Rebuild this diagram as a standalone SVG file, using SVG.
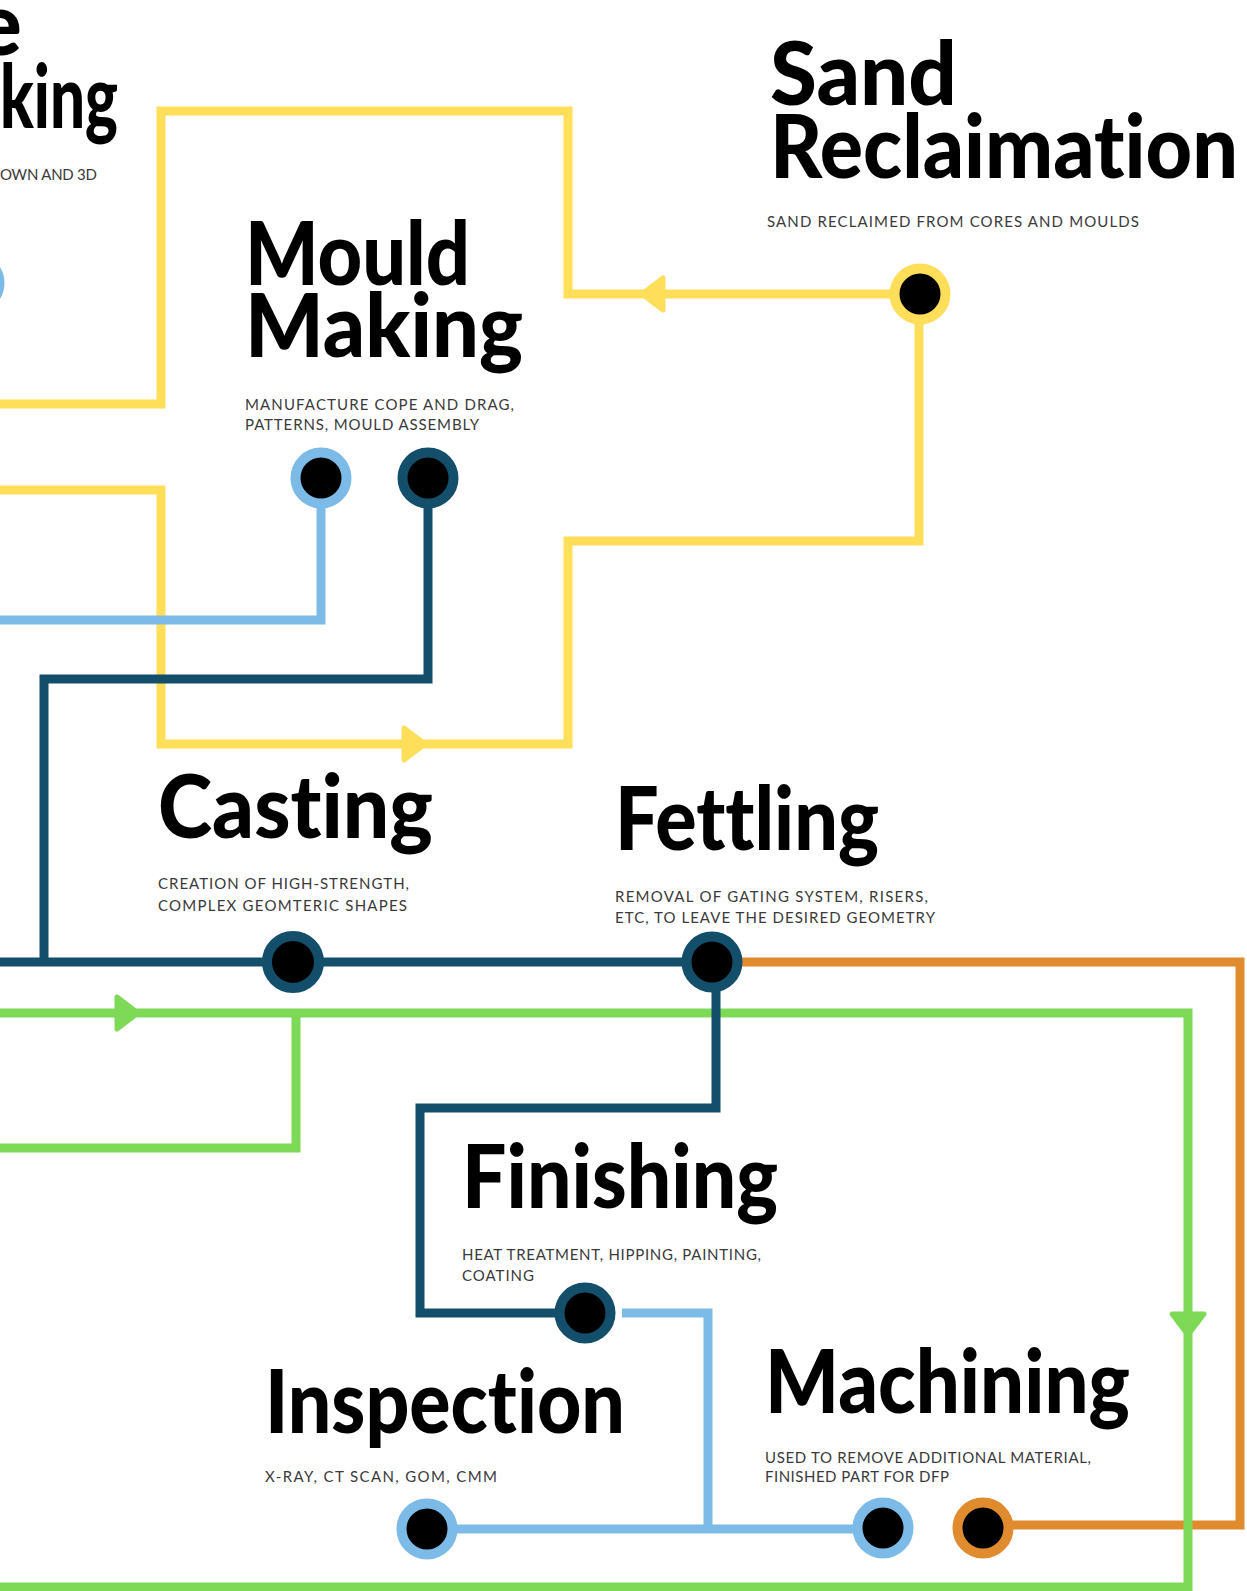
<svg xmlns="http://www.w3.org/2000/svg" xmlns:xlink="http://www.w3.org/1999/xlink" width="1247" height="1591" viewBox="0 0 1247 1591">
<style>
.ln{fill:none;stroke-width:9;stroke-linejoin:miter;stroke-linecap:butt}
.y{stroke:#FFDE59}.g{stroke:#7ED957}.o{stroke:#E18B2F}.d{stroke:#134E6A}.b{stroke:#7CBBE8}
.ay{fill:#FFDE59;stroke:#FFDE59}.ag{fill:#7ED957;stroke:#7ED957}
.arr{stroke-width:5;stroke-linejoin:round}
.st{fill:#000;stroke-width:10}
.t{font-family:Lato,"Liberation Sans",sans-serif;font-weight:900;font-size:87px;fill:#000;font-variant-ligatures:none;font-feature-settings:"liga" 0,"clig" 0,"dlig" 0}
.s{font-family:Lato,"Liberation Sans",sans-serif;font-weight:400;font-size:15px;fill:#3a3a3a;letter-spacing:1px;font-variant-ligatures:none}
</style>
<defs>
<path id="tri" d="M0,-16 L21,0 L0,16 Z"/>
</defs>
<rect width="1247" height="1591" fill="#fff"/>
<g id="connectors">
<path class="ln y" d="M0,404 H161 V111 H568 V294 H919"/>
<path class="ln y" d="M0,490 H161 V744 H568 V541 H919 V294"/>
<use xlink:href="#tri" class="ay arr" transform="translate(663,294) rotate(180)"/>
<use xlink:href="#tri" class="ay arr" transform="translate(404,744)"/>
<path class="ln o" d="M712,962 H1240 V1525 H983"/>
<path class="ln g" d="M0,1013 H1188 V1591"/>
<path class="ln g" d="M296,1013 V1148 H0"/>
<path class="ln g" d="M0,1587 H1188"/>
<use xlink:href="#tri" class="ag arr" transform="translate(117,1013)"/>
<use xlink:href="#tri" class="ag arr" transform="translate(1188,1314) rotate(90)"/>
<path class="ln d" d="M0,962 H712"/>
<path class="ln d" d="M428,478 V679 H44 V962"/>
<path class="ln d" d="M716,962 V1108 H420 V1313 H585"/>
<path class="ln b" d="M321,478 V620 H0"/>
<path class="ln b" d="M622,1313 H708 V1528"/>
<path class="ln b" d="M427,1529 H883"/>
</g>
<g id="node-core">
<circle class="st b" cx="-26" cy="283" r="25.5"/>
<text class="t" x="22" y="55" text-anchor="end">e</text>
<text class="t" x="0" y="128" textLength="118" lengthAdjust="spacingAndGlyphs">king</text>
<text class="s" x="0" y="180" textLength="98" lengthAdjust="spacing">OWN AND 3D</text>
</g>
<g id="node-sand">
<circle class="st y" cx="920" cy="294" r="25.5"/>
<text class="t" x="770" y="105" textLength="187" lengthAdjust="spacingAndGlyphs">Sand</text>
<text class="t" x="770" y="178" textLength="468" lengthAdjust="spacingAndGlyphs">Reclaimation</text>
<text class="s" x="767" y="227" textLength="373" lengthAdjust="spacing">SAND RECLAIMED FROM CORES AND MOULDS</text>
</g>
<g id="node-mould">
<circle class="st b" cx="321" cy="478" r="25.5"/>
<circle class="st d" cx="428" cy="478" r="25.5"/>
<text class="t" x="245" y="285" textLength="225" lengthAdjust="spacingAndGlyphs">Mould</text>
<text class="t" x="245" y="357" textLength="278" lengthAdjust="spacingAndGlyphs">Making</text>
<text class="s" x="245" y="410" textLength="270" lengthAdjust="spacing">MANUFACTURE COPE AND DRAG,</text>
<text class="s" x="245" y="430" textLength="235" lengthAdjust="spacing">PATTERNS, MOULD ASSEMBLY</text>
</g>
<g id="node-casting">
<circle class="st d" cx="293" cy="962" r="26"/>
<text class="t" x="158" y="838" textLength="275" lengthAdjust="spacingAndGlyphs">Casting</text>
<text class="s" x="158" y="889" textLength="252" lengthAdjust="spacing">CREATION OF HIGH-STRENGTH,</text>
<text class="s" x="158" y="911" textLength="250" lengthAdjust="spacing">COMPLEX GEOMTERIC SHAPES</text>
</g>
<g id="node-fettling">
<circle class="st d" cx="712" cy="962" r="25.5"/>
<text class="t" x="615" y="850" textLength="264" lengthAdjust="spacingAndGlyphs">Fettling</text>
<text class="s" x="615" y="902" textLength="314" lengthAdjust="spacing">REMOVAL OF GATING SYSTEM, RISERS,</text>
<text class="s" x="615" y="923" textLength="321" lengthAdjust="spacing">ETC, TO LEAVE THE DESIRED GEOMETRY</text>
</g>
<g id="node-finishing">
<circle class="st d" cx="585" cy="1313" r="25.5"/>
<text class="t" x="462" y="1208" textLength="316" lengthAdjust="spacingAndGlyphs">Finishing</text>
<text class="s" x="462" y="1260" textLength="300" lengthAdjust="spacing">HEAT TREATMENT, HIPPING, PAINTING,</text>
<text class="s" x="462" y="1281" textLength="73" lengthAdjust="spacing">COATING</text>
</g>
<g id="node-inspection">
<circle class="st b" cx="427" cy="1529" r="25.5"/>
<text class="t" x="265" y="1433" textLength="360" lengthAdjust="spacingAndGlyphs">Inspection</text>
<text class="s" x="265" y="1482" textLength="233" lengthAdjust="spacing">X-RAY, CT SCAN, GOM, CMM</text>
</g>
<g id="node-machining">
<circle class="st b" cx="883" cy="1528" r="25.5"/>
<circle class="st o" cx="983" cy="1528" r="25.5"/>
<text class="t" x="765" y="1413" textLength="365" lengthAdjust="spacingAndGlyphs">Machining</text>
<text class="s" x="765" y="1463" textLength="327" lengthAdjust="spacing">USED TO REMOVE ADDITIONAL MATERIAL,</text>
<text class="s" x="765" y="1482" textLength="185" lengthAdjust="spacing">FINISHED PART FOR DFP</text>
</g>
</svg>
